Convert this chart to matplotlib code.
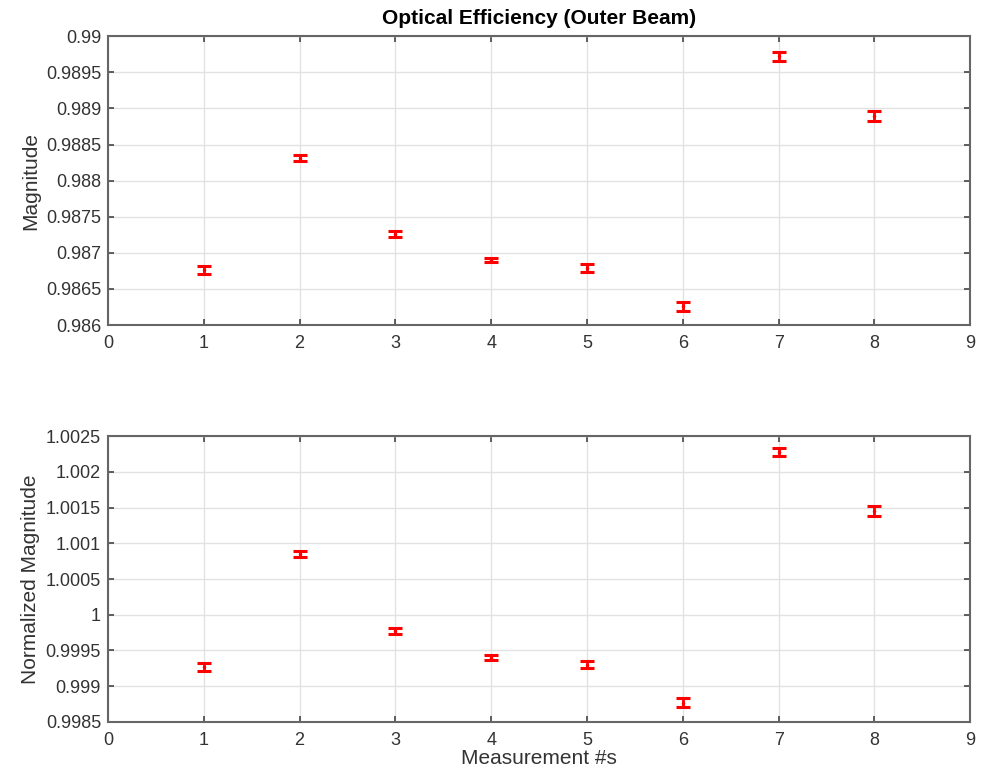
import matplotlib
matplotlib.use("Agg")
import matplotlib.pyplot as plt
import numpy as np

plt.rcParams["font.family"] = ["Liberation Sans", "DejaVu Sans"]

measurements = [1, 2, 3, 4, 5, 6, 7, 8]
magnitude = [0.98676, 0.98831, 0.98726, 0.98690, 0.98679, 0.98626, 0.98972, 0.98889]
magnitude_err = [0.00006, 0.00004, 0.00004, 0.00003, 0.00005, 0.00006, 0.00006, 0.00007]
norm_magnitude = [0.99927, 1.00085, 0.99977, 0.99940, 0.99930, 0.99877, 1.00228, 1.00145]
norm_err = [0.00006, 0.00004, 0.00004, 0.00003, 0.00005, 0.00006, 0.00006, 0.00007]

top_ticks = [0.986, 0.9865, 0.987, 0.9875, 0.988, 0.9885, 0.989, 0.9895, 0.99]
top_labels = ["0.986", "0.9865", "0.987", "0.9875", "0.988", "0.9885", "0.989", "0.9895", "0.99"]
bot_ticks = [0.9985, 0.999, 0.9995, 1.0, 1.0005, 1.001, 1.0015, 1.002, 1.0025]
bot_labels = ["0.9985", "0.999", "0.9995", "1", "1.0005", "1.001", "1.0015", "1.002", "1.0025"]

fig = plt.figure(figsize=(9.82, 7.72), dpi=100)
ax1 = fig.add_axes([0.110, 0.579, 0.878, 0.374])
ax2 = fig.add_axes([0.110, 0.065, 0.878, 0.370])


def style_axis(ax, ticks, labels):
    ax.set_xlim(0, 9)
    ax.set_xticks(range(10))
    ax.set_ylim(ticks[0], ticks[-1])
    ax.set_yticks(ticks)
    ax.set_yticklabels(labels)
    ax.grid(True, color="#e2e2e2", linewidth=1)
    ax.set_axisbelow(True)
    ax.tick_params(direction="in", length=4, width=1.2, colors="#444444",
                   labelcolor="#333333", labelsize=13, top=True, right=True, pad=5)
    ax.tick_params(axis="x", pad=7)
    for s in ax.spines.values():
        s.set_color("#666666")
        s.set_linewidth(1.5)


ax1.errorbar(measurements, magnitude, yerr=magnitude_err, fmt=".", color="red",
             markersize=3, capsize=5, capthick=2.2, elinewidth=2)
style_axis(ax1, top_ticks, top_labels)
ax1.set_ylabel("Magnitude", fontsize=15, color="#333333", labelpad=4)
ax1.set_title("Optical Efficiency (Outer Beam)", fontsize=15, fontweight="bold", pad=9)

ax2.errorbar(measurements, norm_magnitude, yerr=norm_err, fmt=".", color="red",
             markersize=3, capsize=5, capthick=2.2, elinewidth=2)
style_axis(ax2, bot_ticks, bot_labels)
ax2.set_ylabel("Normalized Magnitude", fontsize=15, color="#333333", labelpad=4)
ax2.set_xlabel("Measurement #s", fontsize=15, color="#333333", labelpad=0)

fig.savefig("out.png", dpi=100)
